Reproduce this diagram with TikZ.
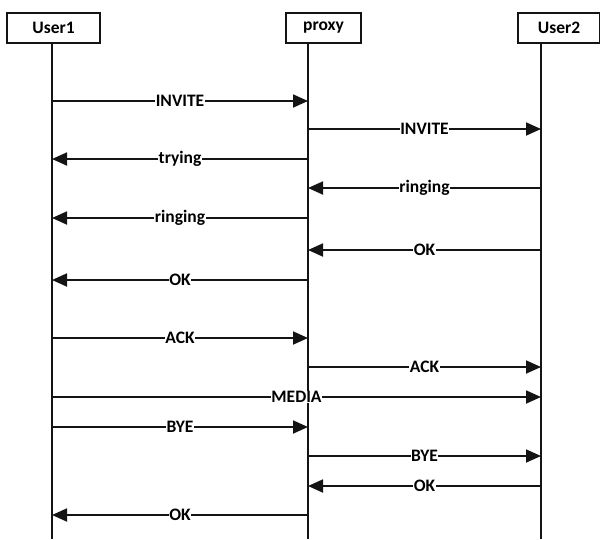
\documentclass[tikz,border=0pt]{standalone}
\usepackage{fontspec}
\setmainfont{Carlito}
\usetikzlibrary{arrows.meta}
\definecolor{seqline}{RGB}{20,20,20}
\tikzset{
  actor/.style ={draw=seqline, line width=1.2pt, minimum height=30pt, inner sep=0pt, font=\fontsize{17.5}{20}\selectfont\bfseries},
  life/.style  ={draw=seqline, line width=2pt},
  msg/.style   ={draw=seqline, line width=1.8pt, -{Triangle[length=15pt,width=13pt]}},
  lbl/.style   ={fill=white, inner sep=0.5pt, font=\fontsize{17.5}{20}\selectfont\bfseries},
}
\begin{document}
\begin{tikzpicture}[x=1pt,y=-1pt]
  \useasboundingbox (0,0) rectangle (600,539);
  % actors
  \node[actor, minimum width=93pt] (user1) at (53.5,28) {User1};
  \node[actor, minimum width=75pt] (proxy) at (323.5,28) {proxy};
  \node[actor, minimum width=82pt] (user2) at (559,28) {User2};
  % lifelines
  \coordinate (a) at (52,43);
  \coordinate (b) at (308,43);
  \coordinate (c) at (541,43);
  \coordinate (aend) at (52,539);
  \coordinate (bend) at (308,539);
  \coordinate (cend) at (541,539);
  \draw[life] (a) -- (aend);
  \draw[life] (b) -- (bend);
  \draw[life] (c) -- (cend);
  % messages
  \draw[msg] (a |- 0,101) -- node[lbl] {INVITE} (b |- 0,101);
  \draw[msg] (b |- 0,129) -- node[lbl] {INVITE} (c |- 0,129);
  \draw[msg] (b |- 0,159) -- node[lbl] {trying} (a |- 0,159);
  \draw[msg] (c |- 0,188) -- node[lbl] {ringing} (b |- 0,188);
  \draw[msg] (b |- 0,218) -- node[lbl] {ringing} (a |- 0,218);
  \draw[msg] (c |- 0,250) -- node[lbl] {OK} (b |- 0,250);
  \draw[msg] (b |- 0,280) -- node[lbl] {OK} (a |- 0,280);
  \draw[msg] (a |- 0,338) -- node[lbl] {ACK} (b |- 0,338);
  \draw[msg] (b |- 0,367) -- node[lbl] {ACK} (c |- 0,367);
  \draw[msg] (a |- 0,397) -- node[lbl] {MEDIA} (c |- 0,397);
  \draw[msg] (a |- 0,427) -- node[lbl] {BYE} (b |- 0,427);
  \draw[msg] (b |- 0,456) -- node[lbl] {BYE} (c |- 0,456);
  \draw[msg] (c |- 0,486) -- node[lbl] {OK} (b |- 0,486);
  \draw[msg] (b |- 0,515) -- node[lbl] {OK} (a |- 0,515);
\end{tikzpicture}
\end{document}
